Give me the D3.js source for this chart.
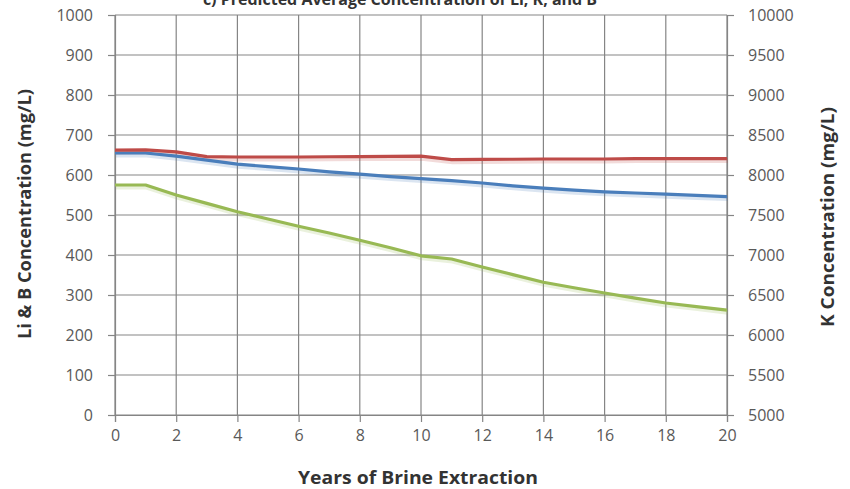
<!DOCTYPE html>
<html><head><meta charset="utf-8">
<script src="https://cdn.jsdelivr.net/npm/d3@7"></script>
<style>
body{margin:0;background:#fff;}
text{font-family:"Open Sans","Liberation Sans",sans-serif;}
</style></head>
<body><svg id="c" width="850" height="489"></svg>
<script>
const years = [0,1,2,3,4,5,6,7,8,9,10,11,12,13,14,15,16,17,18,19,20];
const li = [655,655,647,637,627,621,615,608,602,596,591,586,580,573,567,562,558,555,552,549,546];
const b  = [575,575,550,529,508,490,472,455,437,418,398,390,370,351,332,318,305,292,280,271,262];
const k  = [8310,8315,8290,8230,8225,8225,8225,8228,8230,8232,8235,8192,8195,8197,8200,8200,8200,8205,8205,8205,8205];
const leftTicks = [0,100,200,300,400,500,600,700,800,900,1000];
const rightTicks = [5000,5500,6000,6500,7000,7500,8000,8500,9000,9500,10000];
const xTicks = [0,2,4,6,8,10,12,14,16,18,20];
const title = "c) Predicted Average Concentration of Li, K, and B";

const svg = d3.select("#c");
const L=115, R=727, T=15, B=415;
const x = d3.scaleLinear().domain([0,20]).range([L,R]);
const yL = d3.scaleLinear().domain([0,1000]).range([B,T]);
const yR = d3.scaleLinear().domain([5000,10000]).range([B,T]);
const grid = "#858585", tcol="#595959";
const fmt = d3.format("d");

// gridlines
svg.append("g").selectAll("line").data(leftTicks).join("line")
  .attr("x1",L).attr("x2",R).attr("y1",d=>yL(d)).attr("y2",d=>yL(d))
  .attr("stroke",grid).attr("stroke-width",1.2);
svg.append("g").selectAll("line").data(xTicks).join("line")
  .attr("x1",d=>x(d)).attr("x2",d=>x(d)).attr("y1",T).attr("y2",B)
  .attr("stroke",grid).attr("stroke-width",1.2);

// axes
const axL = svg.append("g").attr("transform",`translate(${L},0)`)
  .call(d3.axisLeft(yL).tickValues(leftTicks).tickFormat(fmt).tickSize(7).tickPadding(15));
const axR = svg.append("g").attr("transform",`translate(${R},0)`)
  .call(d3.axisRight(yR).tickValues(rightTicks).tickFormat(fmt).tickSize(7).tickPadding(14));
const axB = svg.append("g").attr("transform",`translate(0,${B})`)
  .call(d3.axisBottom(x).tickValues(xTicks).tickFormat(fmt).tickSize(7).tickPadding(8));
[axL,axR,axB].forEach(a=>{
  a.select(".domain").attr("stroke",grid).attr("stroke-width",1.2);
  a.selectAll(".tick line").attr("stroke",grid).attr("stroke-width",1.2);
  a.selectAll("text").attr("fill",tcol).style("font-size","16px");
});

// lines (with faint shadow like the original)
const lineL = d3.line().x((d,i)=>x(years[i])).y(d=>yL(d));
const lineR = d3.line().x((d,i)=>x(years[i])).y(d=>yR(d));
const series = [
  {data:b, line:lineL, color:"#98b954"},
  {data:li, line:lineL, color:"#4a7ebb"},
  {data:k, line:lineR, color:"#be4b48"}
];
series.forEach(s=>{
  svg.append("path").datum(s.data).attr("d",s.line).attr("fill","none")
    .attr("stroke",s.color).attr("stroke-opacity",0.2).attr("stroke-width",5)
    .attr("transform","translate(1,2)");
});
series.forEach(s=>{
  svg.append("path").datum(s.data).attr("d",s.line).attr("fill","none")
    .attr("stroke",s.color).attr("stroke-width",3.2).attr("stroke-linejoin","round");
});

// titles
svg.append("text").attr("x",400).attr("y",5).attr("text-anchor","middle")
  .style("font-size","16px").style("font-weight","bold").attr("fill","#333").text(title);
svg.append("text").attr("x",418).attr("y",484).attr("text-anchor","middle")
  .style("font-size","18px").style("font-weight","bold").attr("fill","#333")
  .attr("textLength",240).attr("lengthAdjust","spacingAndGlyphs").text("Years  of Brine Extraction");
svg.append("text").attr("transform","translate(31,214) rotate(-90)").attr("text-anchor","middle")
  .style("font-size","18px").style("font-weight","bold").attr("fill","#333")
  .attr("textLength",250).attr("lengthAdjust","spacingAndGlyphs").text("Li  & B Concentration (mg/L)");
svg.append("text").attr("transform","translate(834,217) rotate(-90)").attr("text-anchor","middle")
  .style("font-size","18px").style("font-weight","bold").attr("fill","#333")
  .attr("textLength",220).attr("lengthAdjust","spacingAndGlyphs").text("K Concentration (mg/L)");
</script></body></html>
